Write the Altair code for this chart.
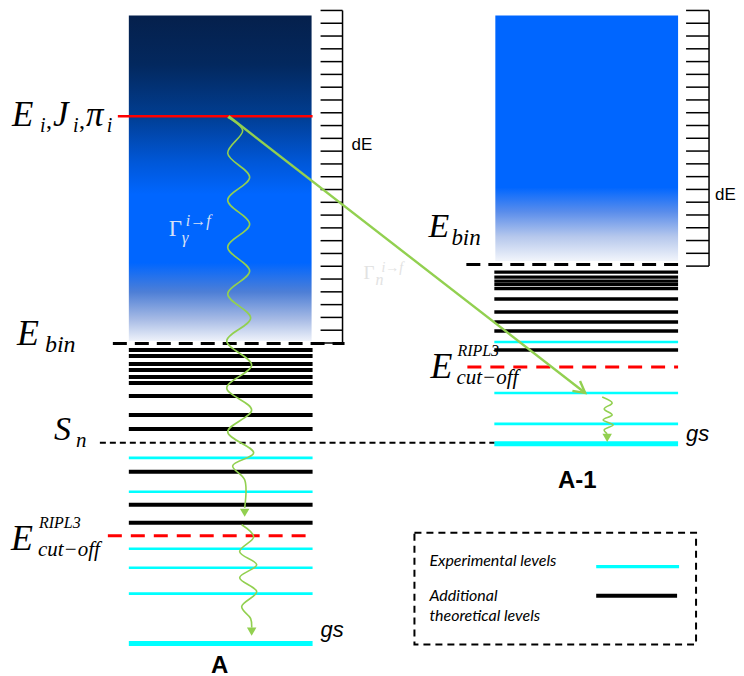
import altair as alt
import pandas as pd
import numpy as np

# ---------------- data (picture units: x to the right, energy axis downward) ----------
colA = (129, 313)          # level-line extent, nucleus A
colB = (495, 679)          # level-line extent, nucleus A-1
boxA = (129, 312, 15, 341)  # continuum box A (x1, x2, top, bottom)
boxB = (496, 679, 15, 261)  # continuum box A-1

E_i = 116
A_bin, B_bin = 343.5, 264.5
S_n = 443
A_cut, B_cut = 536, 367

A_black = [350, 356, 364, 370, 377, 383, 396, 415, 429, 472, 505, 523]
A_cyan = [458, 492, 549, 568, 594]
A_gs = 644
B_black = [272, 277, 281, 284.5, 288.5, 299, 312, 322, 331, 350]
B_cyan = [342, 393, 424]
B_gs = 444

# dE ladders: x of ticks, top, bottom, number of bins
ladA = (321, 343, 10, 343, 26)
ladB = (687, 710, 10, 266, 20)

# gamma cascade (wavy) paths: turning points
waveA1 = [(228, 117), (243, 130), (228, 153), (250, 177), (228, 200), (250, 224),
          (228, 247), (250, 271), (228, 294), (251, 318), (227, 341), (252, 365),
          (227, 388), (252, 410), (228, 432), (254, 453), (233, 466), (245, 480),
          (245, 508)]
waveA2 = [(242, 525), (254, 537), (240, 552), (257, 565), (240, 578), (257, 592),
          (242, 607), (251, 619), (252, 628)]
waveB = [(603, 397), (613, 403), (605, 409), (613, 415), (604, 420), (614, 425),
         (605, 430), (608, 434)]
heads = [(245, 513), (252, 632), (608, 438)]

# neutron emission arrow
n_start, n_end = (229, 116), (586, 393)

GREEN = "#92D050"
CYAN = "#00FFFF"
RED = "#FF0000"

XS = alt.Scale(domain=[8, 736], nice=False, zero=False)
YS = alt.Scale(domain=[8, 668], nice=False, zero=False, reverse=True)


def X(f="x"):
    return alt.X(f"{f}:Q", scale=XS, axis=None)


def Y(f="y"):
    return alt.Y(f"{f}:Q", scale=YS, axis=None)


def hrules(x1, x2, ys, color, width, dash=None):
    df = pd.DataFrame({"x": x1, "x2": x2, "y": ys})
    kw = dict(color=color, strokeWidth=width)
    if dash:
        kw["strokeDash"] = dash
    return alt.Chart(df).mark_rule(**kw).encode(x=X(), x2="x2:Q", y=Y())


def texts(rows, font, style="normal", weight="normal", align="left"):
    df = pd.DataFrame(rows, columns=["x", "y", "t", "s", "c"])
    return alt.Chart(df).mark_text(font=font, fontStyle=style, fontWeight=weight,
                                   align=align, baseline="alphabetic").encode(
        x=X(), y=Y(), text="t:N", size=alt.Size("s:Q", scale=None),
        color=alt.Color("c:N", scale=None))


layers = []

# continuum boxes with gradients
gradA = alt.LinearGradient(gradient="linear", x1=0, x2=0, y1=0, y2=1, stops=[
    alt.GradientStop(offset=0, color="#05204C"),
    alt.GradientStop(offset=0.15, color="#03285E"),
    alt.GradientStop(offset=0.3, color="#013C8E"),
    alt.GradientStop(offset=0.45, color="#0057D8"),
    alt.GradientStop(offset=0.55, color="#0066FF"),
    alt.GradientStop(offset=0.76, color="#0066FF"),
    alt.GradientStop(offset=0.85, color="#4E7FD6"),
    alt.GradientStop(offset=0.93, color="#A3B8E4"),
    alt.GradientStop(offset=1, color="#EEF2FA")])
gradB = alt.LinearGradient(gradient="linear", x1=0, x2=0, y1=0, y2=1, stops=[
    alt.GradientStop(offset=0, color="#0066FF"),
    alt.GradientStop(offset=0.7, color="#0066FF"),
    alt.GradientStop(offset=0.8, color="#5A8DEB"),
    alt.GradientStop(offset=0.9, color="#B5C7EC"),
    alt.GradientStop(offset=1, color="#F2F5FB")])
for box, grad in ((boxA, gradA), (boxB, gradB)):
    df = pd.DataFrame({"x": [box[0]], "x2": [box[1]], "y": [box[2]], "y2": [box[3]]})
    layers.append(alt.Chart(df).mark_rect(fill=grad).encode(
        x=X(), x2="x2:Q", y=Y(), y2="y2:Q"))

# dE ladders
for (tx1, tx2, top, bot, nb) in (ladA, ladB):
    ticks = np.linspace(top, bot, nb + 1)
    layers.append(hrules(tx1, tx2, ticks, "black", 1.5))
    dv = pd.DataFrame({"x": [tx2], "y": [top], "y2": [bot]})
    layers.append(alt.Chart(dv).mark_rule(color="black", strokeWidth=1.5).encode(
        x=X(), y=Y(), y2="y2:Q"))

# levels
layers.append(hrules(colA[0], colA[1], A_black, "black", 4))
layers.append(hrules(colB[0], colB[1], B_black, "black", 3.4))
layers.append(hrules(colA[0], colA[1], A_cyan, CYAN, 2.6))
layers.append(hrules(colB[0], colB[1], B_cyan, CYAN, 2.6))
layers.append(hrules(colA[0], colA[1], [A_gs], CYAN, 5))
layers.append(hrules(colB[0], colB[1], [B_gs], CYAN, 5))
layers.append(hrules(118, colA[1], [E_i], RED, 2.5))

# dashed lines
layers.append(hrules(113, 345, [A_bin], "black", 3, [14, 8]))
layers.append(hrules(467, 680, [B_bin], "black", 3, [14, 8]))
layers.append(hrules(100, colB[0], [S_n], "black", 2, [6, 4]))
layers.append(hrules(108, colA[1], [A_cut], RED, 3, [14, 9]))
layers.append(hrules(468, colB[1], [B_cut], RED, 3, [14, 9]))

# wavy gamma paths
rows = []
for k, w in enumerate((waveA1, waveA2, waveB)):
    for o, (px, py) in enumerate(w):
        rows.append({"id": k, "o": o, "x": px, "y": py})
layers.append(alt.Chart(pd.DataFrame(rows)).mark_line(
    interpolate="catmull-rom", color=GREEN, strokeWidth=1.6).encode(
    x=X(), y=Y(), detail="id:N", order="o:Q"))
layers.append(alt.Chart(pd.DataFrame(heads, columns=["x", "y"])).mark_point(
    shape="triangle-down", filled=True, color=GREEN, opacity=1, size=90).encode(
    x=X(), y=Y()))

# straight neutron arrow with open head
d = np.array(n_end, float) - np.array(n_start, float)
u = d / np.linalg.norm(d)
arm = []
for ang in (0.5, -0.5):
    c, s = np.cos(ang), np.sin(ang)
    r = np.array([c * -u[0] - s * -u[1], s * -u[0] + c * -u[1]])
    arm.append(np.array(n_end) + 13 * r)
arr = [{"id": 0, "o": 0, "x": n_start[0], "y": n_start[1]},
       {"id": 0, "o": 1, "x": n_end[0], "y": n_end[1]},
       {"id": 1, "o": 0, "x": arm[0][0], "y": arm[0][1]},
       {"id": 1, "o": 1, "x": n_end[0], "y": n_end[1]},
       {"id": 1, "o": 2, "x": arm[1][0], "y": arm[1][1]}]
layers.append(alt.Chart(pd.DataFrame(arr)).mark_line(
    color=GREEN, strokeWidth=2.4).encode(x=X(), y=Y(), detail="id:N", order="o:Q"))

# legend
lg = pd.DataFrame({"x": [415], "x2": [697], "y": [533], "y2": [645]})
layers.append(alt.Chart(lg).mark_rect(filled=False, color="black", strokeWidth=2,
                                      strokeDash=[7, 5]).encode(
    x=X(), x2="x2:Q", y=Y(), y2="y2:Q"))
layers.append(hrules(597, 680, [567], CYAN, 3.2))
layers.append(hrules(597, 678, [596], "black", 4))
layers.append(texts([(430, 566, "Experimental levels", 16, "black"),
                     (430, 601, "Additional", 16, "black"),
                     (430, 621, "theoretical levels", 16, "black")],
                    "Lato", style="italic"))

# math labels (serif italic)
K = "black"
GG = "#D6E0F5"
GN = "#E2E2E2"
serif_it = [
    (12, 126, "E", 35, K), (40, 132, "i", 20, K), (53, 126, "J", 35, K),
    (73, 132, "i", 20, K), (86, 126, "π", 35, K), (107, 132, "i", 20, K),
    (17, 345, "E", 36, K), (45, 352, "bin", 24, K),
    (429, 237, "E", 34, K), (452, 245, "bin", 23, K),
    (54, 440, "S", 34, K), (76, 447, "n", 21, K),
    (11, 550, "E", 36, K), (39, 528, "RIPL3", 16, K), (38, 556, "cut−off", 21, K),
    (431, 378, "E", 36, K), (458, 356, "RIPL3", 16, K), (457, 384, "cut−off", 21, K),
    (182, 243, "γ", 17, GG), (186, 226, "i→f", 16, GG),
    (376, 285, "n", 16, GN), (382, 272, "i→f", 14, GN),
]
layers.append(texts(serif_it, "Liberation Serif", style="italic"))
layers.append(texts([(46, 128, ",", 24, K), (79, 128, ",", 24, K),
                     (169, 236, "Γ", 23, GG), (364, 279, "Γ", 19, GN)],
                    "Liberation Serif"))

# sans labels
layers.append(texts([(352, 150, "dE", 17, K), (716, 200, "dE", 17, K)],
                    "Liberation Sans"))
layers.append(texts([(321, 637, "gs", 22, K), (687, 441, "gs", 22, K)],
                    "Liberation Sans", style="italic"))
layers.append(texts([(220, 673, "A", 24, K), (578, 488, "A-1", 24, K)],
                    "Liberation Sans", weight="bold", align="center"))

chart = alt.layer(*layers).properties(width=728, height=660, padding=0).configure_view(
    stroke=None)
chart.save("out.html", embed_options={"renderer": "svg", "actions": False})
